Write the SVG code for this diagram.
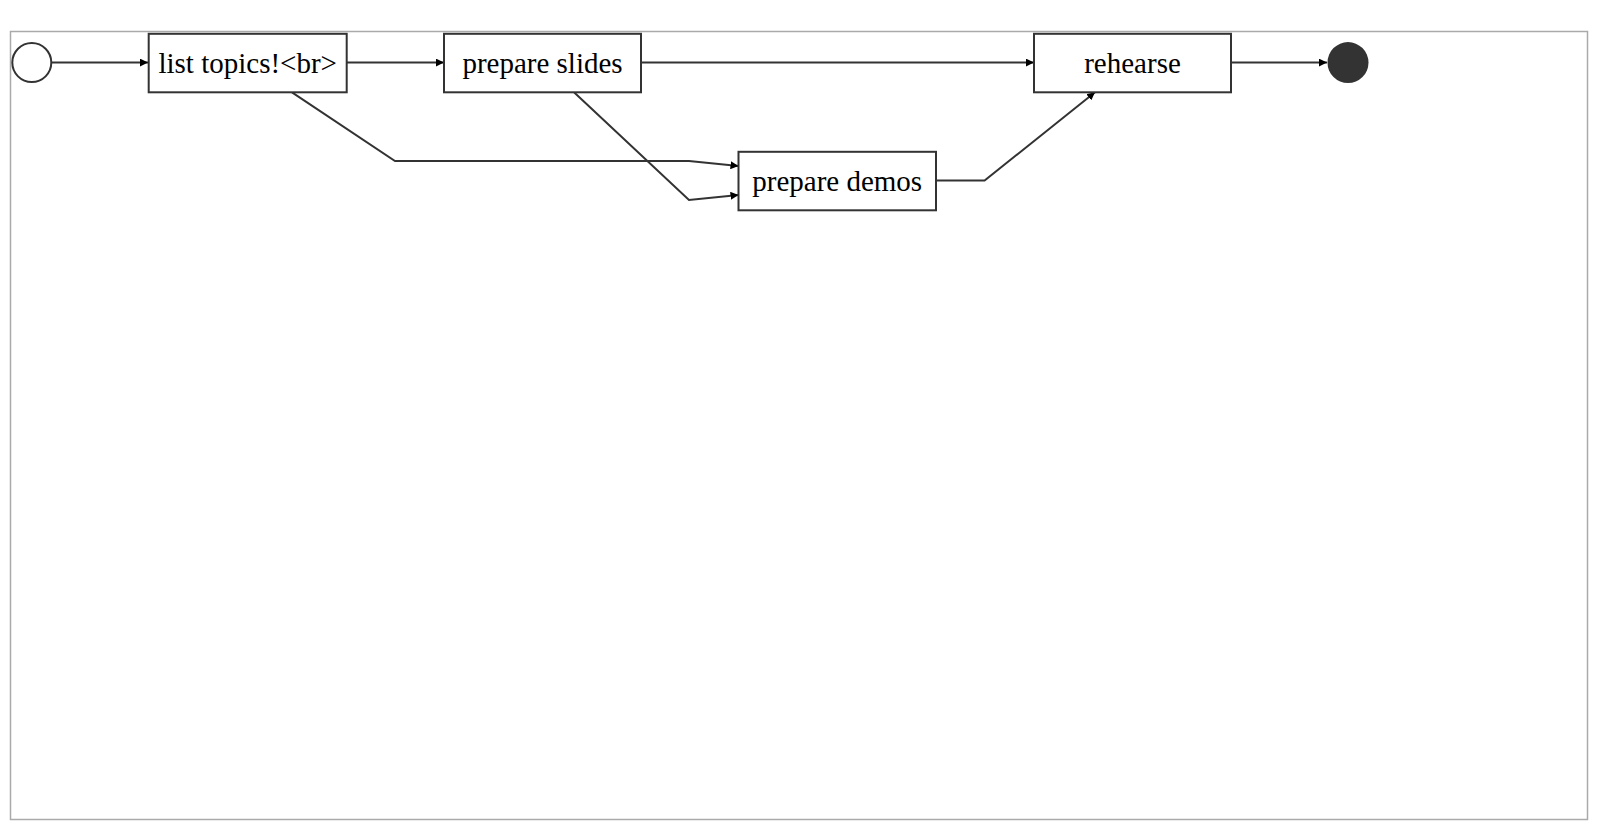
<svg xmlns="http://www.w3.org/2000/svg" width="1600" height="835" viewBox="0 0 1600 835">
<defs>
<marker id="arr" viewBox="0 0 10 10" refX="10" refY="5" markerWidth="8" markerHeight="8" markerUnits="userSpaceOnUse" orient="auto"><path d="M0,0 L10,5 L0,10 z" fill="#000"/></marker>
<style>
.box{fill:#fff;stroke:#333;stroke-width:2}
.lbl{font-family:"Liberation Serif",serif;font-size:29px;fill:#000;text-anchor:middle}
.e{fill:none;stroke:#333;stroke-width:2;marker-end:url(#arr)}
</style>
</defs>
<rect x="10.5" y="31.5" width="1577" height="788" fill="#fff" stroke="#aaa" stroke-width="1.5"/>
<g id="connectors">
<path class="e" d="M52,62.6 L148,62.6"/>
<path class="e" d="M347,62.6 L444,62.6"/>
<path class="e" d="M641,62.6 L1034,62.6"/>
<path class="e" d="M1231,62.6 L1327,62.6"/>
<path class="e" d="M292,92.3 L395,161 L689,161 L738.5,166"/>
<path class="e" d="M574,92.3 L689,200 L738.5,195"/>
<path class="e" d="M936,180.5 L984.6,180.5 L1095,92.3"/>
</g>
<g id="start"><circle cx="31.8" cy="62.6" r="19.5" fill="#fff" stroke="#333" stroke-width="2"/></g>
<g id="list"><rect class="box" x="148.7" y="33.8" width="198" height="58.5"/><text class="lbl" x="247.7" y="72.5">list topics!&lt;br&gt;</text></g>
<g id="slides"><rect class="box" x="444" y="33.8" width="197" height="58.5"/><text class="lbl" x="542.5" y="72.5">prepare slides</text></g>
<g id="rehearse"><rect class="box" x="1034" y="33.8" width="197" height="58.5"/><text class="lbl" x="1132.5" y="72.5">rehearse</text></g>
<g id="demos"><rect class="box" x="738.5" y="151.8" width="197.5" height="58.5"/><text class="lbl" x="837.2" y="190.5">prepare demos</text></g>
<g id="end"><circle cx="1348" cy="62.6" r="20.5" fill="#333"/></g>
</svg>
